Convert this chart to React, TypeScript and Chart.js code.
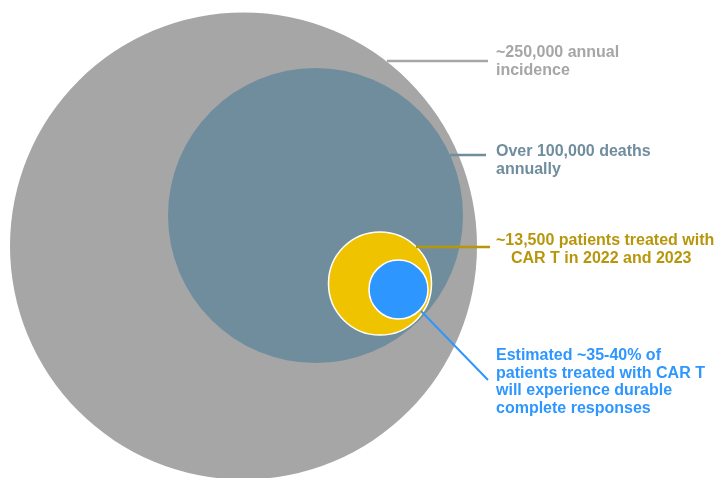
import React, { useEffect, useRef } from "react";
import { Chart, registerables } from "chart.js";

Chart.register(...registerables);

// Circles (data units: x 0..716, y 0..478 top-down; 1 unit = 1 px)
const circleNames = ["Annual incidence", "Deaths annually", "Treated with CAR T", "Durable complete responses"];
const circleX = [243.5, 315.5, 380, 398.5];
const circleY = [246, 215.5, 283.5, 289.5];
const circleR = [233.5, 147.5, 51.5, 29.5];
const circleFill = ["#A6A6A6", "#708D9E", "#F0C300", "#2E96FF"];
const circleBorder = [0, 0, 1.5, 1.5];

// Leader lines
const leaderFrom = [
  { x: 387, y: 61 },
  { x: 450, y: 155 },
  { x: 416, y: 247 },
  { x: 421, y: 311 },
];
const leaderTo = [
  { x: 488, y: 61 },
  { x: 486, y: 155 },
  { x: 490, y: 247 },
  { x: 488, y: 380 },
];
const leaderColor = ["#A6A6A6", "#708D9E", "#B8960C", "#2E96FF"];
const leaderWidth = [2.5, 2.5, 2.5, 2];

// Labels
const labelLines = [
  ["~250,000 annual", "incidence"],
  ["Over 100,000 deaths", "annually"],
  ["~13,500 patients treated with", "CAR T in 2022 and 2023"],
  ["Estimated ~35-40% of", "patients treated with CAR T", "will experience durable", "complete responses"],
];
const labelX = [496, 496, 496, 496];
const labelY = [57, 156, 245, 360];
const labelIndent = [[0, 0], [0, 0], [0, 15], [0, 0, 0, 0]];
const labelColor = ["#A6A6A6", "#708D9E", "#B8960C", "#2E96FF"];

const FONT = "bold 16px 'Liberation Sans', Arial, sans-serif";
const LINE_H = 17.5;

const labelPlugin = {
  id: "circleLabels",
  afterDatasetsDraw(chart: any) {
    const { ctx, scales } = chart;
    const sx = scales.x;
    const sy = scales.y;
    ctx.save();
    ctx.font = FONT;
    ctx.textBaseline = "alphabetic";
    ctx.textAlign = "left";
    labelLines.forEach((lines, i) => {
      ctx.fillStyle = labelColor[i];
      lines.forEach((t, j) => {
        const px = sx.getPixelForValue(labelX[i] + labelIndent[i][j]);
        const py = sy.getPixelForValue(labelY[i] + j * LINE_H);
        ctx.fillText(t, px, py);
      });
    });
    ctx.restore();
  },
};

export default function App() {
  const ref = useRef<HTMLCanvasElement | null>(null);

  useEffect(() => {
    if (!ref.current) return;
    const lineSets = leaderFrom.map((p, i) => ({
      type: "line" as const,
      label: "leader " + i,
      data: [p, leaderTo[i]],
      borderColor: leaderColor[i],
      borderWidth: leaderWidth[i],
      pointRadius: 0,
      fill: false,
      tension: 0,
      order: 0,
      clip: false,
    }));
    const chart = new Chart(ref.current, {
      type: "bubble",
      data: {
        datasets: [
          ...lineSets,
          {
            type: "bubble",
            label: "circles",
            data: circleX.map((x, i) => ({ x, y: circleY[i], r: circleR[i], name: circleNames[i] })),
            backgroundColor: circleFill,
            borderColor: "#FFFFFF",
            borderWidth: circleBorder,
            hoverBorderWidth: circleBorder,
            order: 1,
            clip: 0,
          } as any,
        ],
      },
      options: {
        animation: false,
        responsive: false,
        events: [],
        layout: { padding: 0, autoPadding: false },
        plugins: { legend: { display: false }, tooltip: { enabled: false } },
        scales: {
          x: { type: "linear", min: 0, max: 716, display: false },
          y: { type: "linear", min: 0, max: 478, reverse: true, display: false },
        },
      },
      plugins: [labelPlugin],
    });
    return () => chart.destroy();
  }, []);

  return (
    <div style={{ position: "absolute", left: 0, top: 0, width: 716, height: 478, background: "#FFFFFF" }}>
      <canvas ref={ref} width={716} height={478} />
    </div>
  );
}
